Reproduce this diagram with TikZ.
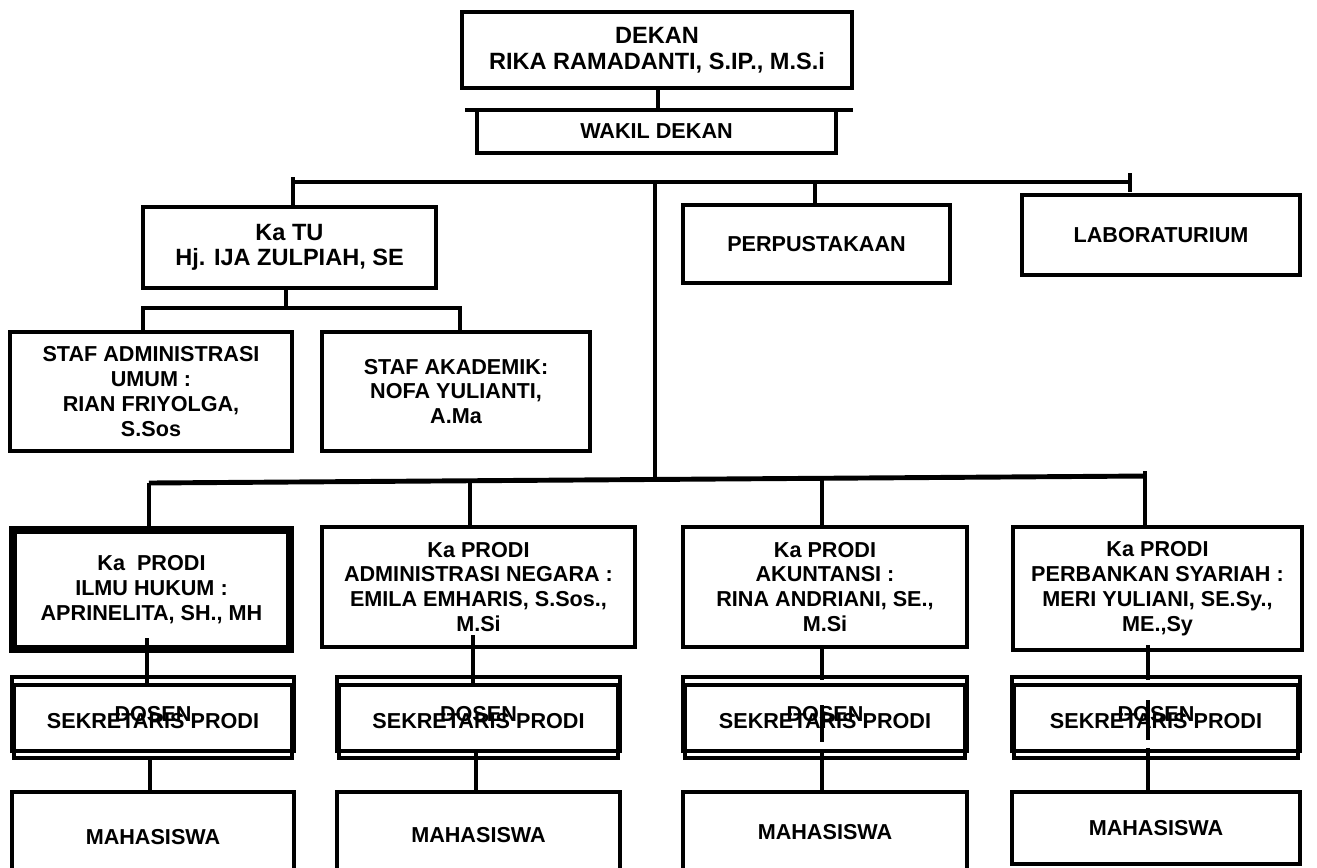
\documentclass[tikz,border=0pt]{standalone}
\usepackage{fontspec}
\setmainfont{Liberation Sans}
\begin{document}
\begin{tikzpicture}[x=0.02cm,y=-0.02cm,
    box/.style={draw,line width=2.8pt,inner sep=0pt,align=center,
      font=\bfseries\fontsize{12.3}{14.2}\selectfont},
    org/.style n args={4}{box,minimum width={((#3)-(#1))*0.02cm},
      minimum height={((#4)-(#2))*0.02cm},at={({(#1)/2+(#3)/2},{(#2)/2+(#4)/2})}},
    big/.style={font=\bfseries\fontsize{13.4}{14.5}\selectfont},
    link/.style={line width=2.8pt}]
  \useasboundingbox (0,0) rectangle (1317,867);

  \node[org={462}{12}{852}{88},big] (dekan) {DEKAN\\RIKA RAMADANTI, S.IP., M.S.i};
  \node[org={477}{110}{836}{153}] (wakil) {WAKIL DEKAN};
  \draw[link] (658,0 |- dekan.south) -- (658,0 |- wakil.north);
  \draw[link] (465,110) -- (853,110);

  \coordinate (busL) at (293,182);
  \coordinate (busR) at (1130,182);
  \coordinate (spine) at (655,182);
  \draw[link] (busL) -- (busR);

  \node[org={143}{207}{436}{288},big] (katu) {Ka TU\\Hj. IJA ZULPIAH, SE};
  \node[org={683}{205}{950}{283}] (perpus) {PERPUSTAKAAN};
  \node[org={1022}{195}{1300}{275}] (lab) {LABORATURIUM};
  \draw[link] (293,177) -- (busL |- katu.north);
  \draw[link] (815,0 |- busR) -- (815,0 |- perpus.north);
  \draw[link] (1130,173) -- (1130,192);

  \node[org={10}{332}{292}{451}] (stafadm) {STAF ADMINISTRASI\\UMUM :\\RIAN FRIYOLGA,\\S.Sos};
  \node[org={322}{332}{590}{451}] (stafak) {STAF AKADEMIK:\\NOFA YULIANTI,\\A.Ma};
  \coordinate (tuL) at (143,308);
  \coordinate (tuR) at (460,308);
  \draw[link] (286,0 |- katu.south) -- (286,308);
  \draw[link] (tuL |- stafadm.north) -- (tuL) -- (tuR) -- (tuR |- stafak.north);

  \draw[link] (spine) -- (655,480);
  \draw[link] (149,483) -- (1146,476);

  \node[org={13}{530}{290}{649},line width=4.5pt] (prodi1) {Ka~~PRODI\\ILMU HUKUM :\\APRINELITA, SH., MH};
  \node[org={322}{527}{635}{647}] (prodi2) {Ka PRODI\\ADMINISTRASI NEGARA :\\EMILA EMHARIS, S.Sos.,\\M.Si};
  \node[org={683}{527}{967}{647}] (prodi3) {Ka PRODI\\AKUNTANSI :\\RINA ANDRIANI, SE.,\\M.Si};
  \node[org={1013}{527}{1302}{650}] (prodi4) {Ka PRODI\\PERBANKAN SYARIAH :\\MERI YULIANI, SE.Sy.,\\ME.,Sy};

  \foreach \n/\xl/\xr/\xt/\yt/\xd/\ya/\yb/\xm/\yc/\yn in {
      1/12/294/149/483/147/638/687/150/760/882,
      2/337/620/470/482/473/635/683/476/753/878,
      3/683/967/822/476/822/645/680/822/753/872,
      4/1012/1300/1145/471/1148/645/680/1148/748/864}{
    \node[org={\xl}{677}{\xr}{751}] (dosen\n) {DOSEN};
    \node[org={\xl+2}{685}{\xr-2}{758}] (sekr\n) {SEKRETARIS PRODI};
    \node[org={\xl}{792}{\xr}{\yn}] (mhs\n) {MAHASISWA};
    \draw[link] (\xt,\yt) -- (\xt,0 |- prodi\n.north);
    \draw[link] (\xd,\ya) -- (\xd,\yb);
    \draw[link] (\xm,\yc) -- (\xm,0 |- mhs\n.north);
  }
  \draw[link] (822,705) -- (822,742);
  \draw[link] (1148,700) -- (1148,740);
\end{tikzpicture}
\end{document}
